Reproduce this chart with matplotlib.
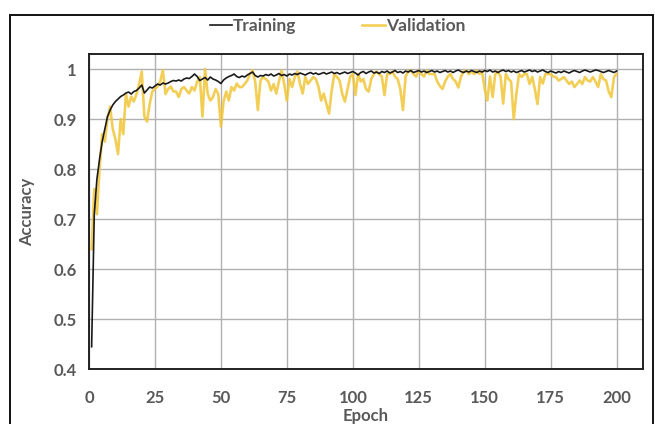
import matplotlib
matplotlib.use("Agg")
import matplotlib.pyplot as plt
from matplotlib.patches import Rectangle

epochs = list(range(1, 201))

training = [
    0.445, 0.71, 0.78, 0.82, 0.855, 0.88, 0.905, 0.918, 0.928, 0.935,
    0.940, 0.945, 0.948, 0.952, 0.954, 0.950, 0.955, 0.957, 0.962, 0.968,
    0.952, 0.958, 0.964, 0.962, 0.966, 0.970, 0.968, 0.972, 0.970, 0.972,
    0.975, 0.977, 0.976, 0.978, 0.976, 0.980, 0.982, 0.981, 0.985, 0.990,
    0.985, 0.977, 0.980, 0.983, 0.978, 0.984, 0.980, 0.978, 0.975, 0.971,
    0.978, 0.982, 0.985, 0.987, 0.990, 0.985, 0.983, 0.986, 0.984, 0.988,
    0.991, 0.994, 0.987, 0.984, 0.987, 0.986, 0.989, 0.987, 0.990, 0.986,
    0.988, 0.991, 0.987, 0.989, 0.986, 0.990, 0.988, 0.991, 0.989, 0.992,
    0.990, 0.988, 0.991, 0.993, 0.990, 0.992, 0.989, 0.991, 0.993, 0.990,
    0.992, 0.994, 0.991, 0.993, 0.990, 0.992, 0.994, 0.991, 0.993, 0.995,
    0.992, 0.988, 0.993, 0.995, 0.991, 0.994, 0.996, 0.992, 0.994, 0.991,
    0.995, 0.993, 0.996, 0.992, 0.994, 0.997, 0.993, 0.995, 0.992, 0.996,
    0.994, 0.997, 0.993, 0.995, 0.997, 0.994, 0.996, 0.993, 0.995, 0.997,
    0.994, 0.996, 0.993, 0.995, 0.997, 0.994, 0.996, 0.993, 0.996, 0.998,
    0.995, 0.993, 0.996, 0.994, 0.997, 0.995, 0.993, 0.996, 0.994, 0.997,
    0.995, 0.998, 0.994, 0.996, 0.993, 0.996, 0.998, 0.995, 0.997, 0.994,
    0.996, 0.993, 0.995, 0.997, 0.994, 0.996, 0.998, 0.995, 0.997, 0.994,
    0.996, 0.998, 0.995, 0.993, 0.996, 0.994, 0.992, 0.995, 0.993, 0.996,
    0.994, 0.992, 0.995, 0.997, 0.995, 0.993, 0.996, 0.998, 0.996, 0.994,
    0.996, 0.998, 0.997, 0.995, 0.993, 0.995, 0.997, 0.995, 0.993, 0.996,
]

validation = [
    0.64, 0.76, 0.71, 0.80, 0.87, 0.855, 0.90, 0.925, 0.88, 0.86,
    0.83, 0.90, 0.87, 0.95, 0.925, 0.945, 0.935, 0.95, 0.97, 0.995,
    0.905, 0.895, 0.93, 0.955, 0.96, 0.965, 0.975, 0.998, 0.95, 0.96,
    0.965, 0.955, 0.955, 0.944, 0.96, 0.964, 0.957, 0.951, 0.964, 0.957,
    0.975, 0.984, 0.905, 1.0, 0.95, 0.937, 0.944, 0.96, 0.95, 0.885,
    0.935, 0.955, 0.937, 0.964, 0.957, 0.971, 0.964, 0.964, 0.97, 0.977,
    0.99, 0.997, 0.975, 0.918, 0.977, 0.984, 0.98, 0.975, 0.957, 0.97,
    0.951, 0.975, 0.997, 0.97, 0.937, 0.98, 0.964, 0.984, 0.995, 0.97,
    0.951, 0.984, 0.97, 0.977, 0.984, 0.98, 0.964, 0.937, 0.951, 0.93,
    0.911, 0.957, 0.99, 0.984, 0.977, 0.95, 0.935, 0.96, 0.985, 0.99,
    0.948, 0.99, 0.975, 0.98, 0.96, 0.955, 0.98, 0.99, 0.995, 0.99,
    0.985, 0.948, 0.99, 0.99, 0.995, 0.985, 0.98, 0.96, 0.918, 0.985,
    0.995, 0.997, 0.99, 0.985, 0.997, 0.99, 0.985, 0.997, 0.99, 0.99,
    0.99, 0.975, 0.966, 0.96, 0.975, 0.985, 0.99, 0.98, 0.975, 0.963,
    0.985, 0.995, 0.997, 0.99, 0.995, 0.99, 0.997, 0.99, 0.995, 0.96,
    0.937, 0.985, 0.944, 0.99, 0.995, 0.985, 0.931, 0.99, 0.98, 0.975,
    0.90, 0.95, 0.99, 0.984, 0.99, 0.99, 0.97, 0.984, 0.96, 0.93,
    0.984, 0.971, 0.99, 0.99, 0.99, 0.985, 0.984, 0.977, 0.98, 0.984,
    0.977, 0.97, 0.975, 0.964, 0.97, 0.977, 0.97, 0.984, 0.977, 0.975,
    0.984, 0.975, 0.964, 0.99, 0.98, 0.977, 0.955, 0.944, 0.984, 0.99,
]

x_ticks = [0, 25, 50, 75, 100, 125, 150, 175, 200]
y_ticks = [0.4, 0.5, 0.6, 0.7, 0.8, 0.9, 1.0]
y_labels = ["0.4", "0.5", "0.6", "0.7", "0.8", "0.9", "1"]

TXT = "#595959"
plt.rcParams["font.family"] = ["Lato", "DejaVu Sans"]

fig = plt.figure(figsize=(6.55, 4.24), dpi=100)
fig.patch.set_facecolor("white")
ax = fig.add_axes([89 / 655, 1 - 369.3 / 424, 554 / 655, 315.3 / 424])

ax.plot(epochs, validation, color="#F2C63A", lw=1.9, alpha=0.85, label="Validation", zorder=2)
ax.plot(epochs, training, color="#1a1a1a", lw=1.2, label="Training", zorder=3)

ax.set_xlim(0, 210)
ax.set_ylim(0.4, 1.03)
ax.set_xticks(x_ticks)
ax.set_yticks(y_ticks)
ax.set_yticklabels(y_labels)
ax.grid(color="#b0b0b0", lw=1.0)
ax.set_axisbelow(True)
ax.tick_params(length=0, labelsize=12, colors=TXT)
ax.tick_params(axis="x", pad=15)
ax.tick_params(axis="y", pad=9)
for lab in ax.get_xticklabels() + ax.get_yticklabels():
    lab.set_fontweight("bold")
for sp in ax.spines.values():
    sp.set_color("#222222")
    sp.set_linewidth(1.4)

ax.set_xlabel("Epoch", color=TXT, fontsize=12, fontweight="bold", labelpad=1)
ax.set_ylabel("Accuracy", color=TXT, fontsize=12, fontweight="bold", labelpad=13)

h, l = ax.get_legend_handles_labels()
fig.legend(h[::-1], l[::-1], loc="center", bbox_to_anchor=(0.515, 1 - 26 / 424), ncol=2,
           frameon=False, handlelength=1.3, handletextpad=0.05,
           columnspacing=3.8, labelcolor=TXT, prop={"weight": "bold", "size": 12.5})

# chart border
fig.patches.append(Rectangle((10 / 655, -0.05), 643 / 655, 1 - 15 / 424 + 0.05,
                             transform=fig.transFigure, fill=False,
                             edgecolor="#111111", lw=1.4))

fig.savefig("out.png", dpi=100, facecolor="white")
